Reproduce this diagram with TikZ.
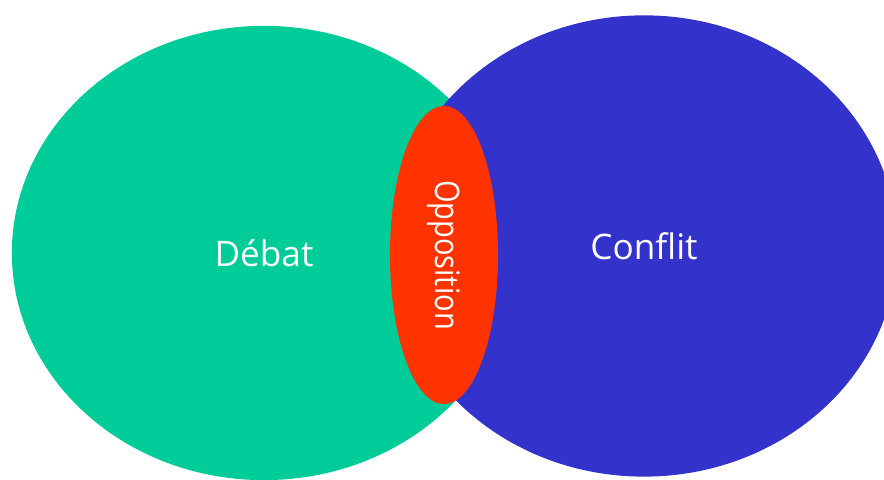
\documentclass[tikz,border=0pt]{standalone}
\usepackage{fontspec}
\setmainfont{Open Sans}
\newfontfamily\narrowfont[FakeStretch=0.86]{Open Sans}
\usetikzlibrary{shapes,positioning}
\definecolor{debatgreen}{HTML}{00CC99}
\definecolor{conflitblue}{HTML}{3333CC}
\definecolor{oppred}{HTML}{FF3300}
\tikzset{
	blob/.style={
		ellipse,
		inner sep=0pt,
		text=white,
	},
}

\begin{document}
\begin{tikzpicture}[x=0.01cm,y=-0.01cm]
		\useasboundingbox (0,0) rectangle (884,480);
		\node [blob,fill=debatgreen,minimum width=5.04cm,minimum height=4.54cm,font=\fontsize{10}{12}\selectfont] (debat) at (264,253) {Débat};
		\node [blob,fill=conflitblue,minimum width=5.06cm,minimum height=4.61cm,font=\fontsize{10}{12}\selectfont] (conflit) at (644,246) {Conflit};
		\node [blob,fill=oppred,rotate=-90,minimum width=2.98cm,minimum height=1.08cm,font=\narrowfont\fontsize{9.6}{11}\selectfont] (opposition) at (444,255) {Opposition};
	\end{tikzpicture}
\end{document}
